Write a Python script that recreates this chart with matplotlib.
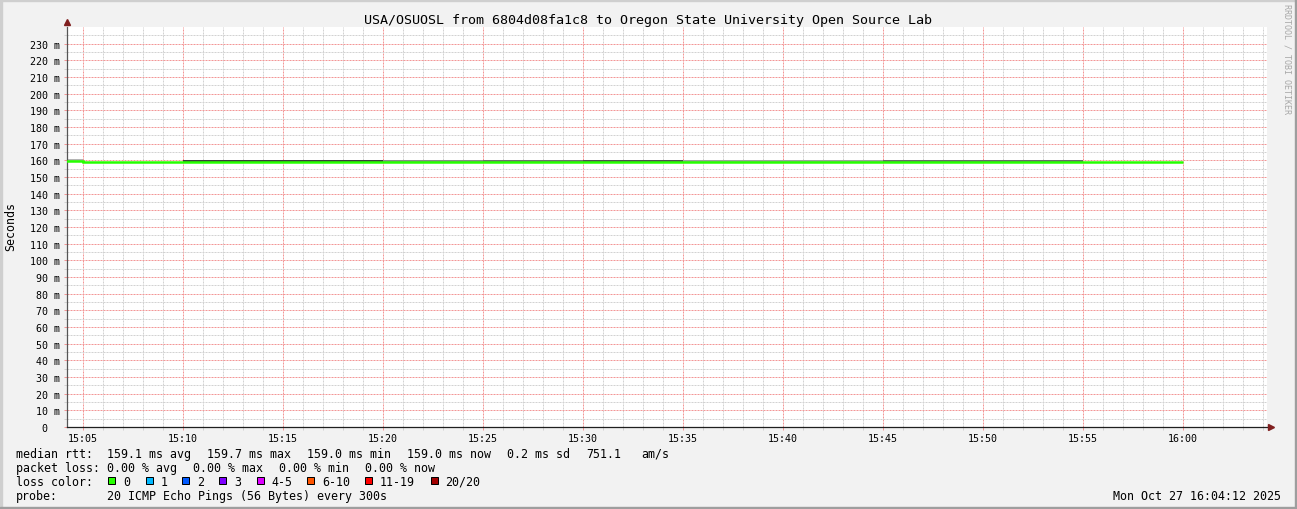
import matplotlib
matplotlib.use("Agg")
import matplotlib.pyplot as plt
from matplotlib.patches import Rectangle
from matplotlib.transforms import ScaledTranslation
import numpy as np

# ---- data ----
step_end = ["15:05", "15:10", "15:15", "15:20", "15:25", "15:30",
            "15:35", "15:40", "15:45", "15:50", "15:55", "16:00"]
median_ms = [159.7, 159.0, 159.1, 159.1, 159.0, 159.1,
             159.1, 159.0, 159.1, 159.1, 159.0, 159.0]
ping_min_ms = [158.9, 158.7, 158.7, 158.7, 158.6, 158.7,
               158.7, 158.6, 158.7, 158.7, 158.6, 158.7]
ping_max_ms = [160.9, 159.3, 160.5, 160.5, 160.4, 160.5,
               160.5, 160.4, 160.5, 160.5, 160.4, 159.3]
yticks_ms = list(range(0, 240, 10))
loss_labels = ["0", "1", "2", "3", "4-5", "6-10", "11-19", "20/20"]
loss_colors = ["#26ff00", "#00b8ff", "#0059ff", "#7e00ff",
               "#dd00ff", "#ff5500", "#ff0000", "#a10000"]
title = "USA/OSUOSL from 6804d08fa1c8 to Oregon State University Open Source Lab"
rtt_items = ["159.1 ms avg", "159.7 ms max", "159.0 ms min", "159.0 ms now",
             "0.2 ms sd", "751.1", "am/s"]
loss_items = ["0.00 % avg", "0.00 % max", "0.00 % min", "0.00 % now"]
probe_text = "20 ICMP Echo Pings (56 Bytes) every 300s"
stamp = "Mon Oct 27 16:04:12 2025"

# smoke shading per step (style)
smoke_shades = ["#b4b4b4", None, "#3c3c3c", "#3c3c3c", "#8a8a8a", "#707070",
                "#505050", "#a0a0a0", "#a0a0a0", "#6a6a6a", "#6a6a6a", None]

W, H = 1297, 510
MONO = "DejaVu Sans Mono"


def fx(x):
    return x / W


def fy(y):
    return 1 - y / H


def to_min(s):
    h, m = s.split(":")
    return (int(h) - 15) * 60 + int(m)


ends = np.array([to_min(s) for s in step_end], dtype=float)
edges = np.concatenate([[ends[0] - 5], ends])

fig = plt.figure(figsize=(W / 100, H / 100), dpi=100, facecolor="#f2f2f2")
ax = fig.add_axes([fx(67), fy(428), 1200 / W, 400 / H])
ax.set_facecolor("white")

# smoke
for i in range(len(ends)):
    if smoke_shades[i] is None:
        continue
    ax.bar(ends[i] - 2.5, ping_max_ms[i] - ping_min_ms[i], bottom=ping_min_ms[i],
           width=5, color=smoke_shades[i], linewidth=0, zorder=2)

# median line
ax.stairs(median_ms, edges, baseline=None, color="#26ff00", linewidth=1.8, zorder=3)

ax.set_xlim(4.2, 64.2)
ax.set_ylim(0, 240)

ax.set_xticks(ends)
ax.set_xticklabels(step_end)
minor_x = [m for m in range(5, 65) if m % 5]
ax.set_xticks(minor_x, minor=True)
ax.set_yticks(yticks_ms)
ax.set_yticklabels([f"{v} m" if v else "0" for v in yticks_ms])
ax.set_yticks(np.arange(5, 240, 10), minor=True)

major_c = "#f39696"
minor_c = "#d2d2d2"
ax.set_axisbelow(True)
ax.grid(which="major", color=major_c, linewidth=0.72, linestyle=(0, (2, 1)))
ax.grid(which="minor", color=minor_c, linewidth=0.72, linestyle=(0, (2, 1)))

ax.tick_params(which="both", direction="out", length=2.2, width=0.72,
               labelsize=7.2, labelfontfamily=MONO)
ax.tick_params(which="major", color=major_c)
ax.tick_params(which="minor", color=minor_c)
ax.tick_params(axis="x", pad=2.2)
ax.tick_params(axis="y", pad=2.9)

# the "0" label carries two trailing blanks in rrdtool
ax.get_yticklabels()[0].set_transform(
    ax.get_yticklabels()[0].get_transform() + ScaledTranslation(-0.13, 0, fig.dpi_scale_trans))

for s in ["top", "right"]:
    ax.spines[s].set_visible(False)
ax.spines["left"].set_color("#555555")
ax.spines["bottom"].set_color("#1f1f1f")
ax.spines["left"].set_linewidth(0.9)
ax.spines["bottom"].set_linewidth(0.9)

arrow_c = "#801f1f"
ax.plot([0], [1 + 5 / 400], marker="^", ms=4.5, color=arrow_c, transform=ax.transAxes,
        clip_on=False, zorder=5)
ax.plot([1 + 4 / 1200], [0], marker=">", ms=4.5, color=arrow_c, transform=ax.transAxes,
        clip_on=False, zorder=5)

# texts
fig.text(fx(648.5), fy(24), title, ha="center", va="baseline", fontsize=9.6, family=MONO)
fig.text(fx(10.5), fy(227), "Seconds", rotation=90, ha="center", va="center",
         fontsize=8.4, family=MONO)
fig.text(fx(1287), fy(4), "RRDTOOL / TOBI OETIKER", rotation=270, ha="center", va="top",
         fontsize=6, family=MONO, color="#a8a8a8")

leg = dict(fontsize=8.4, family=MONO, va="baseline", ha="left")
fig.text(fx(16), fy(458), "median rtt:", **leg)
rtt_x = [107, 207, 307, 407, 507, 586, 641]
for x, s in zip(rtt_x, rtt_items):
    fig.text(fx(x), fy(458), s, **leg)
fig.text(fx(16), fy(472), "packet loss:", **leg)
for x, s in zip([107, 193, 279, 365], loss_items):
    fig.text(fx(x), fy(472), s, **leg)
fig.text(fx(16), fy(486), "loss color:", **leg)
box_x = [108, 145.5, 182, 219, 256.5, 307, 365, 430.5]
for x, lab, c in zip(box_x, loss_labels, loss_colors):
    fig.add_artist(Rectangle((fx(x), fy(485)), 7 / W, 7 / H, facecolor=c,
                             edgecolor="black", linewidth=0.72, transform=fig.transFigure))
    fig.text(fx(x + 15), fy(486), lab, **leg)
fig.text(fx(16), fy(500), "probe:", **leg)
fig.text(fx(107), fy(500), probe_text, **leg)
fig.text(fx(1281), fy(500), stamp, fontsize=8.4, family=MONO, va="baseline", ha="right")

# 3d frame
fig.add_artist(Rectangle((0, fy(2)), 1, 2 / H, color="#cfcfcf", transform=fig.transFigure))
fig.add_artist(Rectangle((0, 0), 2 / W, 1, color="#cfcfcf", transform=fig.transFigure))
fig.add_artist(Rectangle((0, 0), 1, 2 / H, color="#9e9e9e", transform=fig.transFigure))
fig.add_artist(Rectangle((fx(W - 2), 0), 2 / W, 1, color="#9e9e9e", transform=fig.transFigure))

fig.savefig("out.png", dpi=100, facecolor=fig.get_facecolor())
